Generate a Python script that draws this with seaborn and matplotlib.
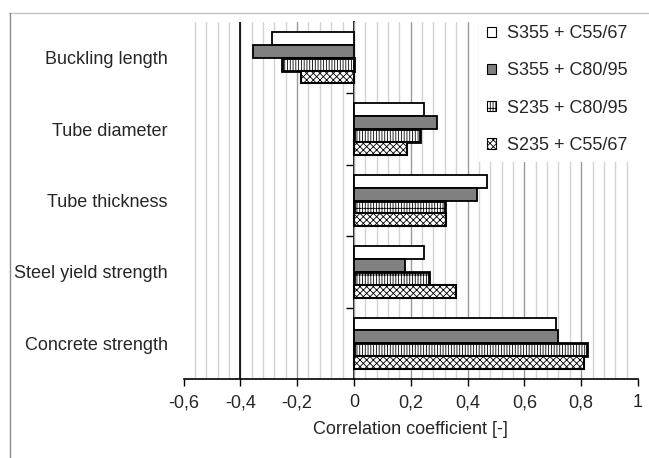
import numpy as np
import pandas as pd
import matplotlib
matplotlib.use("Agg")
import matplotlib.pyplot as plt
from matplotlib.patches import Patch
from matplotlib.lines import Line2D
import seaborn as sns

# Sensitivity of the resistance to each input parameter
parameters = ["Buckling length", "Tube diameter", "Tube thickness",
              "Steel yield strength", "Concrete strength"]
combos = ["S355 + C55/67", "S355 + C80/95", "S235 + C80/95", "S235 + C55/67"]

s355_c55 = [-0.29, 0.248, 0.47, 0.245, 0.711]
s355_c80 = [-0.357, 0.293, 0.433, 0.181, 0.717]
s235_c80 = [-0.255, 0.232, 0.32, 0.263, 0.822]
s235_c55 = [-0.186, 0.187, 0.325, 0.359, 0.81]

x_ticks = [-0.6, -0.4, -0.2, 0.0, 0.2, 0.4, 0.6, 0.8, 1.0]
x_tick_labels = ["-0,6", "-0,4", "-0,2", "0", "0,2", "0,4", "0,6", "0,8", "1"]

df = pd.DataFrame({
    "parameter": parameters * 4,
    "value": s355_c55 + s355_c80 + s235_c80 + s235_c55,
    "combo": sum([[c] * len(parameters) for c in combos], []),
})

sns.set_theme(style="white")
plt.rcParams["font.family"] = ["Liberation Sans", "DejaVu Sans"]
plt.rcParams["hatch.linewidth"] = 0.6
plt.rcParams["hatch.color"] = "black"

styles = {
    "S355 + C55/67": dict(facecolor="white", hatch=None, lw=1.3),
    "S355 + C80/95": dict(facecolor="#808080", hatch=None, lw=1.3),
    "S235 + C80/95": dict(facecolor="white", hatch="||||||-", lw=2.0),
    "S235 + C55/67": dict(facecolor="white", hatch="xxxxx", lw=1.5),
}

fig = plt.figure(figsize=(6.49, 4.58), dpi=100)
ax = fig.add_axes([183.5 / 649, 1 - 379 / 458, (638 - 183.5) / 649, (379 - 22) / 458])

sns.barplot(data=df, y="parameter", x="value", hue="combo", hue_order=combos,
            order=parameters, orient="h", width=0.72, dodge=True,
            color="white", edgecolor="black", linewidth=1.3,
            err_kws={"linewidth": 0}, legend=False, ax=ax)

for combo, cont in zip(combos, ax.containers):
    st = styles[combo]
    for bar in cont:
        bar.set_facecolor(st["facecolor"])
        bar.set_edgecolor("black")
        bar.set_linewidth(st["lw"])
        if st["hatch"]:
            bar.set_hatch(st["hatch"])
        bar.set_zorder(3)

ax.set_xlim(-0.6, 1.0)
ax.set_ylim(len(parameters) - 0.5, -0.5)

# Gridlines: light minor every 0.04, darker major every 0.2
minor = [v for v in np.round(np.arange(-0.56, 1.0, 0.04), 2)
         if abs(round(v / 0.2) * 0.2 - v) > 1e-6]
ax.set_xticks(x_ticks, x_tick_labels)
ax.set_xticks(minor, minor=True)
ax.grid(which="minor", axis="x", color="#d4d4d4", linewidth=1.0, zorder=0)
ax.grid(which="major", axis="x", color="#9a9a9a", linewidth=1.0, zorder=0)
ax.grid(axis="y", visible=False)
gl = ax.get_xgridlines()
gl[0].set_visible(False)
gl[-1].set_visible(False)
ax.set_axisbelow(True)
ax.axvline(-0.4, color="black", linewidth=1.2, zorder=1)

ax.tick_params(axis="x", which="major", direction="out", length=5, width=1,
               color="black", labelsize=13, pad=6, bottom=True)
ax.tick_params(axis="x", which="minor", length=0)
ax.tick_params(axis="y", length=0, labelsize=13, pad=11.5)
ax.set_ylabel("")
ax.set_xlabel("Correlation coefficient [-]", fontsize=13, labelpad=7)

for side in ["top", "right", "left"]:
    ax.spines[side].set_visible(False)
ax.spines["bottom"].set_color("black")
ax.spines["bottom"].set_linewidth(1.2)

# Category axis drawn through zero with ticks between groups
sec = ax.secondary_yaxis(0.6 / 1.6)
sec.spines["left"].set_color("black")
sec.spines["left"].set_linewidth(1.3)
sec.set_yticks(np.arange(0.5, len(parameters) - 0.5, 1.0))
sec.set_yticklabels([])
sec.tick_params(axis="y", direction="out", length=6, width=1, color="black")

handles = []
for combo in combos:
    st = styles[combo]
    handles.append(Patch(facecolor=st["facecolor"], edgecolor="black",
                         linewidth=0.8, hatch=st["hatch"], label=combo))
leg = ax.legend(handles=handles, loc="upper left",
                bbox_to_anchor=((479 - 183.5) / 454.5, 1 + 5 / 357),
                borderaxespad=0, fontsize=13, frameon=True, fancybox=False,
                handlelength=0.5, handleheight=0.5, handletextpad=0.6,
                labelspacing=1.12, borderpad=0.45)
leg.get_frame().set_facecolor("white")
leg.get_frame().set_edgecolor("none")
leg.get_frame().set_alpha(1)
leg.set_zorder(5)

# Outer chart frame
fig.add_artist(Line2D([9 / 649, 1.0], [1 - 12.5 / 458] * 2, color="#c4c4c4",
                      linewidth=1.0, transform=fig.transFigure))
fig.add_artist(Line2D([9.5 / 649] * 2, [0.0, 1 - 12.5 / 458], color="#8c8c8c",
                      linewidth=1.0, transform=fig.transFigure))

fig.savefig("out.png", dpi=100)
